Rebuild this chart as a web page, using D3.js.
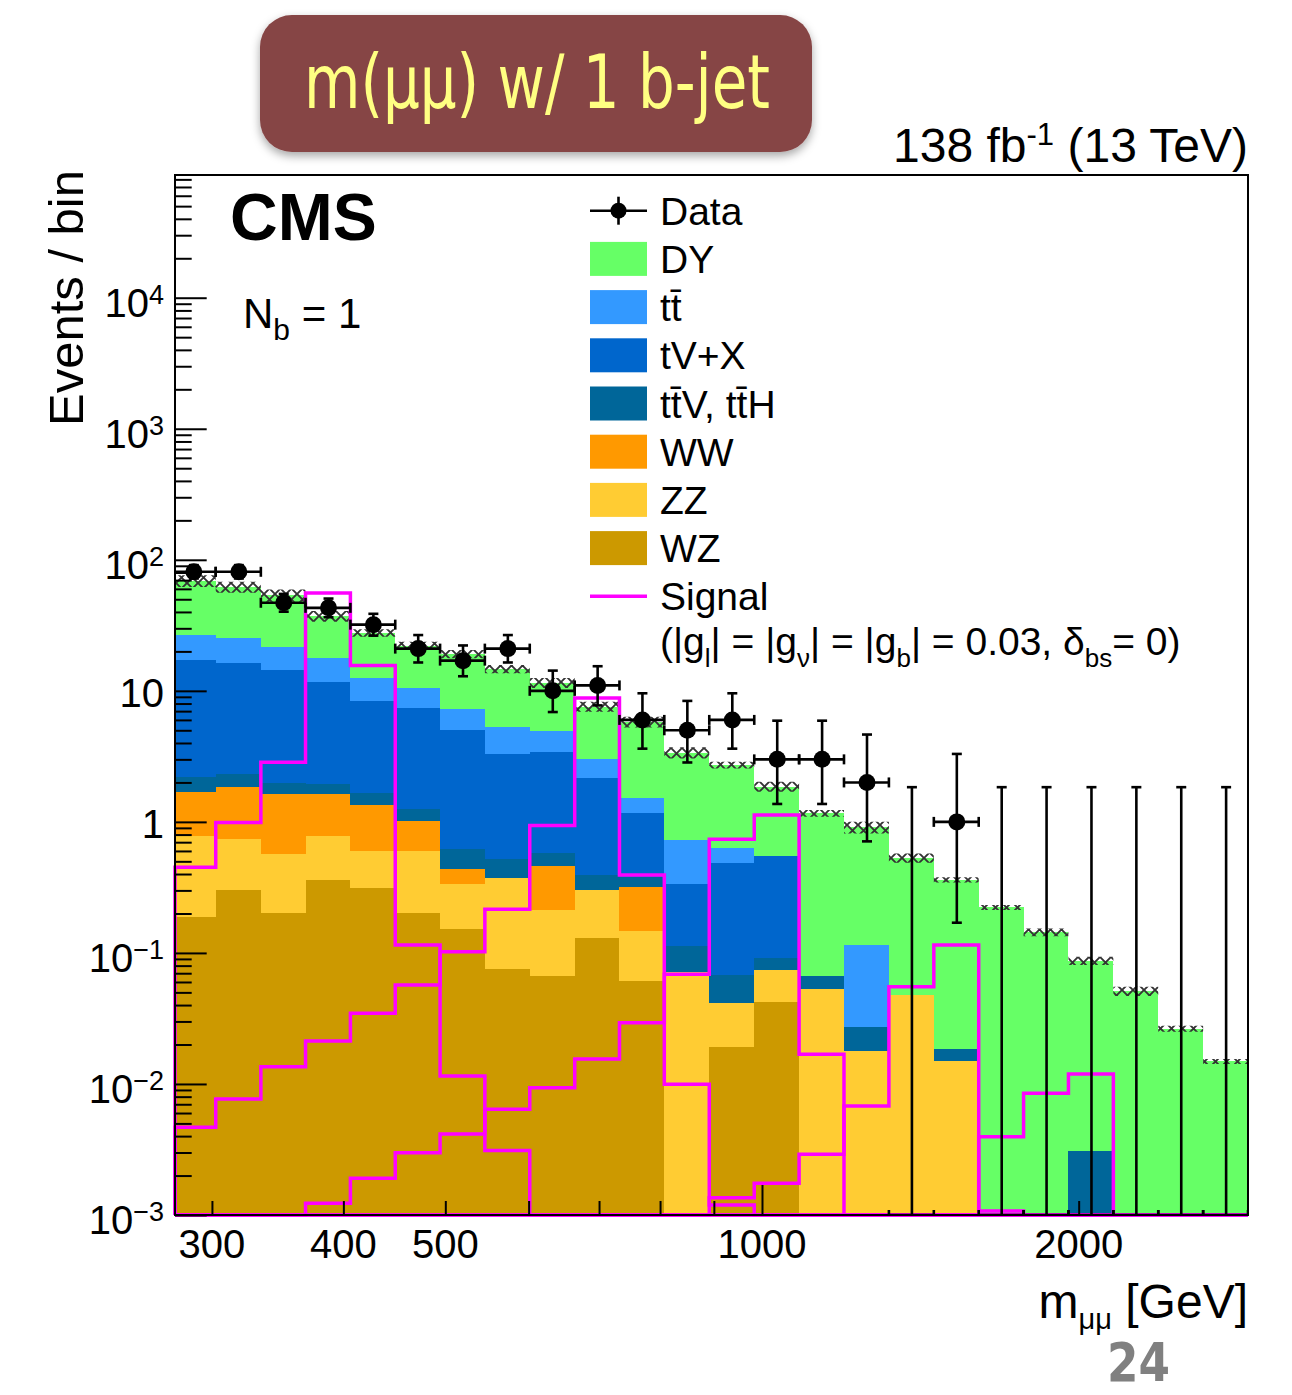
<!DOCTYPE html>
<html>
<head>
<meta charset="utf-8">
<title>m(μμ) w/ 1 b-jet</title>
<script src="https://cdn.jsdelivr.net/npm/d3@7"></script>
<style>
  html, body { margin: 0; padding: 0; background: #ffffff; }
  svg { display: block; }
  text { font-family: "Liberation Sans", Arial, Helvetica, sans-serif; fill: #000; }
</style>
</head>
<body>
<svg id="chart" width="1292" height="1395"></svg>
<script>
// ---------------- binning (GeV), log-spaced; first bin starts just below the axis range
const binEdges = [274.2, 302.5, 333.9, 368.2, 406.2, 448.1, 494.3, 545.2, 601.5, 663.7, 732.0, 807.5,
                  891.0, 983.2, 1084.6, 1196.6, 1320.2, 1456.6, 1607.0, 1772.8, 1955.8, 2157.8,
                  2380.6, 2626.3, 2897.3];
const xAxisRange = [276.7, 2897.3];
const yAxisRange = [1e-3, 8.64e4];

// ---------------- observed events per bin, with 68% Poisson intervals
const dataCounts = [81, 81, 47, 43, 32, 21, 17, 21, 10, 11, 6, 5, 6, 3, 3, 2, 0, 1, 0, 0, 0, 0, 0, 0];
const dataLow    = [72.02, 72.02, 40.17, 36.47, 26.38, 16.46, 12.92, 16.46, 6.89, 7.74, 3.62, 2.84,
                    3.62, 1.37, 1.37, 0.71, 0, 0.17, 0, 0, 0, 0, 0, 0];
const dataHigh   = [91.03, 91.03, 54.90, 50.61, 38.71, 26.65, 22.20, 26.65, 14.27, 15.41, 9.58, 8.38,
                    9.58, 5.92, 5.92, 4.64, 1.84, 3.30, 1.84, 1.84, 1.84, 1.84, 1.84, 1.84];

// ---------------- expected backgrounds per bin (stacked bottom -> top: WZ, ZZ, WW, ttV, tV+X, tt, DY)
const bkgWZ  = [0.189, 0.303, 0.203, 0.361, 0.312, 0.201, 0.152, 0.0755, 0.0667, 0.1295, 0.0611, 0,
                0.0193, 0.0425, 0, 0, 0, 0, 0, 0, 0, 0, 0, 0];
const bkgZZ  = [0.593, 0.439, 0.370, 0.421, 0.289, 0.400, 0.185, 0.298, 0.146, 0.175, 0.0861, 0.0712,
                0.0225, 0.0317, 0.0531, 0.018, 0.0478, 0.015, 0, 0, 0, 0, 0, 0];
const bkgWW  = [0.921, 1.118, 1.063, 0.854, 0.747, 0.417, 0.102, 0, 0.249, 0, 0.172, 0,
                0, 0, 0, 0, 0, 0, 0, 0, 0, 0, 0, 0];
const bkgTTV = [0.491, 0.465, 0.338, 0.314, 0.308, 0.232, 0.181, 0.148, 0.116, 0.0896, 0.058, 0.0425,
                0.0262, 0.0179, 0.0136, 0.009, 0, 0.0035, 0, 0, 0.00308, 0, 0, 0];
const bkgTV  = [15.06, 13.95, 12.50, 9.83, 6.73, 6.13, 4.42, 2.78, 2.83, 1.785, 0.794, 0.221,
                0.416, 0.458, 0, 0, 0, 0, 0, 0, 0, 0, 0, 0];
const bkgTT  = [9.51, 8.98, 7.09, 5.99, 4.11, 3.11, 2.25, 1.98, 1.49, 0.831, 0.354, 0.395,
                0.146, 0, 0, 0.0882, 0, 0, 0, 0, 0, 0, 0, 0];
const bkgDY  = [42.4, 36.75, 32.0, 19.4, 15.2, 11.6, 11.8, 9.42, 6.61, 4.58, 4.28, 2.65,
                2.09, 1.31, 1.098, 0.793, 0.483, 0.3425, 0.2225, 0.144, 0.0841, 0.0510, 0.0264, 0.01485];
// relative uncertainty of the total background
const bkgRelUnc = [0.103, 0.097, 0.108, 0.094, 0.064, 0.073, 0.073, 0.073, 0.088, 0.088, 0.094, 0.097,
                   0.059, 0.088, 0.059, 0.103, 0.082, 0.047, 0.044, 0.068, 0.073, 0.082, 0.053, 0.044];

// ---------------- signal hypotheses for several Z' masses
const sigM400  = [0.451, 0.988, 2.855, 55.7, 15.6, 0.1151, 0.01151, 0.0031, 0, 0, 0, 0,
                  0, 0, 0, 0, 0, 0, 0, 0, 0, 0, 0, 0];
const sigM700  = [0.00467, 0.00768, 0.01355, 0.02129, 0.03465, 0.05697, 0.1023, 0.2156, 0.937, 8.80, 0.394, 0.00995,
                  0.00119, 0, 0, 0, 0, 0, 0, 0, 0, 0, 0, 0];
const sigM1000 = [0, 0, 0, 0.00123, 0.00191, 0.00299, 0.00415, 0.00641, 0.00937, 0.01552, 0.02937, 0.0688,
                  0.738, 1.131, 0.01685, 0, 0, 0, 0, 0, 0, 0, 0, 0];
const sigM1500 = [0, 0, 0, 0, 0, 0, 0, 0, 0, 0, 0, 0,
                  0.001355, 0.001746, 0.002907, 0.006794, 0.0553, 0.1151, 0.001073, 0, 0, 0, 0, 0];
const sigM2000 = [0, 0, 0, 0, 0, 0, 0, 0, 0, 0, 0, 0,
                  0, 0, 0, 0, 0, 0, 0.00396, 0.00849, 0.01192, 0, 0, 0];

// ---------------- axis ticks
const xTickLabels = [300, 400, 500, 1000, 2000];
const xMinorTicks = [300, 400, 500, 600, 700, 800, 900, 2000];
const xMajorTicks = [1000];
const yMajorTicks = [1e-3, 1e-2, 1e-1, 1, 10, 100, 1e3, 1e4];
const yTickExponents = [-3, -2, -1, 0, 1, 2, 3, 4];

// ---------------- legend entries
const legendLabels = ["Data", "DY", "tt\u0304", "tV+X", "tt\u0304V, tt\u0304H", "WW", "ZZ", "WZ", "Signal"];
const processKeys = ["WZ", "ZZ", "WW", "ttV", "tV", "tt", "DY"];
const processColors = { DY: "#66ff66", tt: "#3399ff", tV: "#0066cc", ttV: "#006699",
                        WW: "#ff9900", ZZ: "#ffcc33", WZ: "#cc9900" };
const signalColor = "#ff00ff";

// ================= drawing =================
const svg = d3.select("#chart");
const plot = { left: 175, right: 1248, top: 175, bottom: 1215 };

const x = d3.scaleLog().domain(xAxisRange).range([plot.left, plot.right]);
const y = d3.scaleLog().domain(yAxisRange).range([plot.bottom, plot.top]).clamp(true);
const yv = v => (v > 0 ? y(v) : plot.bottom);

const nBins = binEdges.length - 1;
const bins = d3.range(nBins).map(i => ({ lo: binEdges[i], hi: binEdges[i + 1] }));

// defs: clip, hatch, shadow
const defs = svg.append("defs");
defs.append("clipPath").attr("id", "plotClip").append("rect")
  .attr("x", plot.left).attr("y", plot.top)
  .attr("width", plot.right - plot.left).attr("height", plot.bottom - plot.top);
const hatch = defs.append("pattern").attr("id", "uncHatch")
  .attr("patternUnits", "userSpaceOnUse").attr("width", 11).attr("height", 11);
hatch.append("path").attr("d", "M0,0L11,11M11,0L0,11")
  .attr("stroke", "#333333").attr("stroke-width", 1.9).attr("fill", "none");
const shadow = defs.append("filter").attr("id", "boxShadow")
  .attr("x", "-10%").attr("y", "-15%").attr("width", "120%").attr("height", "145%");
shadow.append("feDropShadow").attr("dx", 0).attr("dy", 4).attr("stdDeviation", 5)
  .attr("flood-color", "#000").attr("flood-opacity", 0.35);

// stacked backgrounds
const rows = bins.map((b, i) => ({
  WZ: bkgWZ[i], ZZ: bkgZZ[i], WW: bkgWW[i], ttV: bkgTTV[i], tV: bkgTV[i], tt: bkgTT[i], DY: bkgDY[i]
}));
const stacked = d3.stack().keys(processKeys)(rows);

const stepArea = d3.area()
  .x(p => x(p.e)).y0(p => yv(p.b)).y1(p => yv(p.t));

const gPlot = svg.append("g").attr("clip-path", "url(#plotClip)");
stacked.forEach(layer => {
  const pts = [];
  layer.forEach((d, i) => {
    pts.push({ e: bins[i].lo, b: d[0], t: d[1] });
    pts.push({ e: bins[i].hi, b: d[0], t: d[1] });
  });
  gPlot.append("path").attr("d", stepArea(pts))
    .attr("fill", processColors[layer.key]).attr("shape-rendering", "crispEdges");
});

// background uncertainty band
const totals = rows.map(r => processKeys.reduce((s, k) => s + r[k], 0));
const bandPts = [];
totals.forEach((t, i) => {
  const lo = t * (1 - bkgRelUnc[i]), hi = t * (1 + bkgRelUnc[i]);
  bandPts.push({ e: bins[i].lo, b: lo, t: hi });
  bandPts.push({ e: bins[i].hi, b: lo, t: hi });
});
gPlot.append("path").attr("d", stepArea(bandPts)).attr("fill", "url(#uncHatch)");

// signal histograms
const stepLine = d3.line().x(p => x(p[0])).y(p => yv(p[1]));
[sigM400, sigM700, sigM1000, sigM1500, sigM2000].forEach(sig => {
  const pts = [[xAxisRange[0], 0]];
  sig.forEach((v, i) => {
    pts.push([Math.max(bins[i].lo, xAxisRange[0]), v]);
    pts.push([bins[i].hi, v]);
  });
  pts.push([bins[nBins - 1].hi, 0]);
  svg.append("path").attr("d", stepLine(pts))
    .attr("fill", "none").attr("stroke", signalColor).attr("stroke-width", 3.5)
    .attr("stroke-linejoin", "miter");
});

// data points
const gData = svg.append("g").attr("clip-path", "url(#plotClip)")
  .attr("stroke", "#000").attr("stroke-width", 2.6);
const cap = 5;
bins.forEach((b, i) => {
  const cx = x((b.lo + b.hi) / 2);
  const n = dataCounts[i];
  const yc = yv(n);
  const yLo = yv(dataLow[i]), yHi = yv(dataHigh[i]);
  const x0 = x(b.lo), x1 = x(b.hi);
  gData.append("line").attr("x1", cx).attr("x2", cx).attr("y1", yLo).attr("y2", yHi);
  gData.append("line").attr("x1", cx - cap).attr("x2", cx + cap).attr("y1", yHi).attr("y2", yHi);
  if (n > 0) gData.append("line").attr("x1", cx - cap).attr("x2", cx + cap).attr("y1", yLo).attr("y2", yLo);
  gData.append("line").attr("x1", x0).attr("x2", x1).attr("y1", yc).attr("y2", yc);
  gData.append("line").attr("x1", x0).attr("x2", x0).attr("y1", yc - cap).attr("y2", yc + cap);
  gData.append("line").attr("x1", x1).attr("x2", x1).attr("y1", yc - cap).attr("y2", yc + cap);
  if (n > 0) gData.append("circle").attr("cx", cx).attr("cy", yc).attr("r", 8.5)
    .attr("fill", "#000").attr("stroke", "none");
});

// axes (ticks pointing inward)
const yMinorTicks = [];
for (let k = -3; k <= 4; k++) for (let m = 2; m <= 9; m++) {
  const v = m * Math.pow(10, k);
  if (v <= yAxisRange[1]) yMinorTicks.push(v);
}
function styleAxis(g) {
  g.select(".domain").remove();
  g.selectAll(".tick line").attr("stroke", "#000").attr("stroke-width", 2);
}
svg.append("g").attr("transform", `translate(${plot.left},0)`)
  .call(d3.axisLeft(y).tickValues(yMinorTicks).tickSize(-16.7).tickFormat(""))
  .call(styleAxis);
svg.append("g").attr("transform", `translate(${plot.left},0)`)
  .call(d3.axisLeft(y).tickValues(yMajorTicks).tickSize(-31.7).tickFormat(""))
  .call(styleAxis);
svg.append("g").attr("transform", `translate(0,${plot.bottom})`)
  .call(d3.axisBottom(x).tickValues(xMinorTicks).tickSize(-14).tickFormat(""))
  .call(styleAxis);
svg.append("g").attr("transform", `translate(0,${plot.bottom})`)
  .call(d3.axisBottom(x).tickValues(xMajorTicks).tickSize(-30).tickFormat(""))
  .call(styleAxis);

// frame
svg.append("rect").attr("x", plot.left).attr("y", plot.top)
  .attr("width", plot.right - plot.left).attr("height", plot.bottom - plot.top)
  .attr("fill", "none").attr("stroke", "#000").attr("stroke-width", 2);

// y tick labels
yMajorTicks.forEach((v, i) => {
  const e = yTickExponents[i];
  const t = svg.append("text").attr("text-anchor", "end").attr("font-size", 40)
    .attr("x", 164);
  if (e === 0 || e === 1) {
    t.attr("y", y(v) + 16).text(e === 0 ? "1" : "10");
  } else {
    t.attr("y", y(v) + 19);
    t.append("tspan").text("10");
    t.append("tspan").attr("dy", -13).attr("font-size", 27).text(e < 0 ? "\u2212" + (-e) : String(e));
  }
});

// x tick labels
xTickLabels.forEach(v => {
  svg.append("text").attr("x", x(v)).attr("y", 1258).attr("text-anchor", "middle")
    .attr("font-size", 40).text(String(v));
});

// axis titles
const xt = svg.append("text").attr("x", plot.right).attr("y", 1318)
  .attr("text-anchor", "end").attr("font-size", 48);
xt.append("tspan").text("m");
xt.append("tspan").attr("dy", 11).attr("font-size", 29).text("\u03bc\u03bc");
xt.append("tspan").attr("dy", -11).text(" [GeV]");

svg.append("text").attr("transform", "translate(83,170) rotate(-90)")
  .attr("text-anchor", "end").attr("font-size", 49).text("Events / bin");

// labels inside the frame
svg.append("text").attr("x", 230).attr("y", 240).attr("font-size", 66)
  .attr("font-weight", "bold").text("CMS");
const nb = svg.append("text").attr("x", 243).attr("y", 328).attr("font-size", 42);
nb.append("tspan").text("N");
nb.append("tspan").attr("dy", 12).attr("font-size", 30).text("b");
nb.append("tspan").attr("dy", -12).text(" = 1");

// luminosity label
const lumi = svg.append("text").attr("x", plot.right).attr("y", 162)
  .attr("text-anchor", "end").attr("font-size", 48);
lumi.append("tspan").text("138 fb");
lumi.append("tspan").attr("dy", -17).attr("font-size", 31).text("-1");
lumi.append("tspan").attr("dy", 17).text(" (13 TeV)");

// legend
const legX = 590, legW = 57, legH = 34, legTextX = 660, legY0 = 210.7, legStep = 48.2;
const legendSwatchKeys = [null, "DY", "tt", "tV", "ttV", "WW", "ZZ", "WZ", null];
legendLabels.forEach((lab, i) => {
  const cy = legY0 + i * legStep;
  if (i === 0) {
    const g = svg.append("g").attr("stroke", "#000").attr("stroke-width", 2.6);
    g.append("line").attr("x1", legX).attr("x2", legX + legW).attr("y1", cy).attr("y2", cy);
    g.append("line").attr("x1", legX + legW / 2).attr("x2", legX + legW / 2).attr("y1", cy - 14).attr("y2", cy + 14);
    g.append("circle").attr("cx", legX + legW / 2).attr("cy", cy).attr("r", 8).attr("fill", "#000").attr("stroke", "none");
  } else if (legendSwatchKeys[i]) {
    svg.append("rect").attr("x", legX).attr("y", cy - legH / 2).attr("width", legW).attr("height", legH)
      .attr("fill", processColors[legendSwatchKeys[i]]);
  } else {
    svg.append("line").attr("x1", legX).attr("x2", legX + legW).attr("y1", cy).attr("y2", cy)
      .attr("stroke", signalColor).attr("stroke-width", 3.5);
  }
  svg.append("text").attr("x", legTextX).attr("y", cy + 14).attr("font-size", 39).text(lab);
});
// coupling line under the signal entry
const coup = svg.append("text").attr("x", legTextX).attr("y", legY0 + 9 * legStep + 10).attr("font-size", 39);
const subPart = (t) => { coup.append("tspan").attr("dy", 12).attr("font-size", 26).text(t); };
const mainPart = (t, back) => { const s = coup.append("tspan").text(t); if (back) s.attr("dy", -12); };
mainPart("(|g");
subPart("l");
mainPart("| = |g", true);
subPart("\u03bd");
mainPart("| = |g", true);
subPart("b");
mainPart("| = 0.03, \u03b4", true);
subPart("bs");
mainPart("= 0)", true);

// title badge
svg.append("rect").attr("x", 260).attr("y", 15).attr("width", 552).attr("height", 137)
  .attr("rx", 32).attr("ry", 32).attr("fill", "#864545").attr("filter", "url(#boxShadow)");
svg.append("text").attr("x", 304).attr("y", 108)
  .style("font-family", "'Liberation Sans Narrow', 'DejaVu Sans Condensed', 'Liberation Sans', sans-serif")
  .style("fill", "#ffff82")
  .attr("font-size", 74)
  .attr("textLength", 466).attr("lengthAdjust", "spacingAndGlyphs")
  .text("m(\u03bc\u03bc) w/ 1 b-jet");

// page number
svg.append("text").attr("x", 1107).attr("y", 1381)
  .style("font-family", "'Liberation Sans Narrow', 'DejaVu Sans Condensed', 'Liberation Sans', sans-serif")
  .style("fill", "#808080")
  .attr("font-size", 54).attr("font-weight", "bold")
  .attr("textLength", 63).attr("lengthAdjust", "spacingAndGlyphs")
  .text("24");
</script>
</body>
</html>
